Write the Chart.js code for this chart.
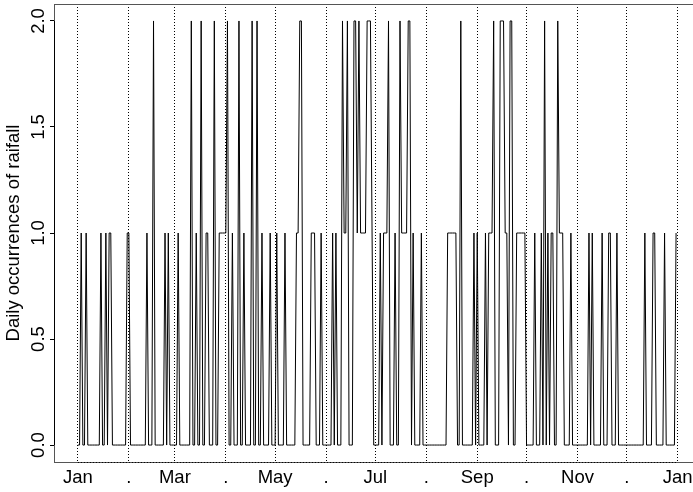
<!DOCTYPE html>
<html>
<head>
<meta charset="utf-8">
<title>Daily occurrences of rainfall</title>
<script src="https://cdn.jsdelivr.net/npm/chart.js@4.4.0/dist/chart.umd.min.js"></script>
<style>
  html, body { margin: 0; padding: 0; background: #fff; overflow: hidden; }
  #wrap { position: relative; width: 708px; height: 492px; }
</style>
</head>
<body>
<div id="wrap"><canvas id="rain" width="708" height="492"></canvas></div>
<script>
// daily rainfall occurrences, one array per month
const jan = [0,0,1,0,0,1,0,0,0,0,0,0,0,0,1,0,0,1,0,1,1,0,0,0,0,0,0,0,0,0,1];
const feb = [1,0,0,0,0,0,0,0,0,0,0,1,0,0,0,2,0,0,0,0,0,0,1,0,1,0,0,0];
const mar = [0,0,1,0,0,0,0,0,0,0,2,0,0,1,0,0,2,0,0,1,1,0,0,0,2,0,0,1,1,1,1];
const apr = [1,2,0,0,1,0,0,0,2,0,0,1,0,0,0,0,2,0,0,2,0,0,1,0,0,0,0,1,0,0];
const may = [0,1,0,0,0,0,1,0,0,0,0,0,0,1,1,2,2,0,0,0,0,0,1,1,1,0,0,0,1,0,0];
const jun = [0,0,0,0,1,0,1,0,0,0,2,1,1,2,0,0,0,2,2,1,2,1,1,1,1,2,2,2,1,0];
const jul = [0,0,0,1,0,1,1,1,2,0,0,0,1,0,0,2,1,1,1,1,2,2,0,1,0,0,0,0,1,0,0];
const aug = [0,0,0,0,0,0,0,0,0,0,0,0,0,1,1,1,1,1,1,0,0,2,0,0,0,0,0,0,0,1,0];
const sep = [1,0,0,0,0,1,0,1,1,1,2,0,0,0,2,2,2,1,1,0,2,2,0,0,1,1,1,1,1,1];
const oct = [0,0,0,0,0,1,0,0,0,1,0,2,0,1,0,1,1,0,0,2,1,1,1,0,0,0,0,1,0,0,0];
const nov = [0,0,0,0,0,0,0,1,0,1,0,0,0,0,0,1,0,0,0,1,1,0,0,0,1,0,0,0,0,0];
const dec = [0,0,0,0,0,0,0,0,0,0,0,1,0,0,0,0,1,1,0,0,0,0,0,1,0,0,0,0,0,0,1];

// x ticks: day of year where each month starts
const monthStarts = [0, 31, 59, 90, 120, 151, 181, 212, 243, 273, 304, 334, 365];
const monthLabels = ['Jan', '.', 'Mar', '.', 'May', '.', 'Jul', '.', 'Sep', '.', 'Nov', '.', 'Jan'];
const yTicks = [0, 0.5, 1, 1.5, 2];
const yTickLabels = ['0.0', '0.5', '1.0', '1.5', '2.0'];

const FONT = '"Liberation Sans", Arial, Helvetica, sans-serif';
const FONT_SIZE = 18.5;

const rain = [].concat(jan, feb, mar, apr, may, jun, jul, aug, sep, oct, nov, dec);
const points = rain.map((v, day) => ({ x: day, y: v }));

// box, axis lines and the vertical y tick labels
const frame = {
  id: 'frame',
  afterDraw(chart) {
    const { ctx, chartArea: a, scales: { x, y } } = chart;
    ctx.save();
    ctx.lineWidth = 1;
    ctx.strokeStyle = '#555';
    ctx.strokeRect(a.left + 0.5, a.top + 0.5, a.right - a.left, a.bottom - a.top);

    // axis line runs from first to last tick, dotted like the grid
    ctx.strokeStyle = '#000';
    ctx.setLineDash([1, 2]);
    ctx.beginPath();
    ctx.moveTo(x.getPixelForValue(monthStarts[0]), a.bottom + 0.5);
    ctx.lineTo(x.getPixelForValue(monthStarts[monthStarts.length - 1]), a.bottom + 0.5);
    ctx.stroke();
    ctx.setLineDash([]);

    ctx.beginPath();
    ctx.moveTo(a.left + 0.5, y.getPixelForValue(yTicks[0]));
    ctx.lineTo(a.left + 0.5, y.getPixelForValue(yTicks[yTicks.length - 1]));
    ctx.stroke();

    ctx.fillStyle = '#000';
    ctx.font = FONT_SIZE + 'px ' + FONT;
    ctx.textAlign = 'center';
    ctx.textBaseline = 'alphabetic';
    yTicks.forEach((v, i) => {
      ctx.save();
      ctx.translate(a.left - 10, y.getPixelForValue(v));
      ctx.rotate(-Math.PI / 2);
      ctx.fillText(yTickLabels[i], 0, 0);
      ctx.restore();
    });
    ctx.restore();
  }
};

new Chart(document.getElementById('rain'), {
  type: 'line',
  data: {
    datasets: [{
      data: points,
      borderColor: '#000',
      borderWidth: 1,
      pointRadius: 0,
      tension: 0,
      fill: false
    }]
  },
  options: {
    responsive: false,
    animation: false,
    devicePixelRatio: 1,
    layout: { padding: { top: 4, right: 8, left: 0, bottom: 0 } },
    plugins: { legend: { display: false }, tooltip: { enabled: false } },
    scales: {
      x: {
        type: 'linear',
        min: -14.56,
        max: 378.56,
        afterBuildTicks: (s) => { s.ticks = monthStarts.map(v => ({ value: v })); },
        afterFit: (s) => { s.height = 30; },
        ticks: {
          autoSkip: false,
          maxRotation: 0,
          padding: 5,
          color: '#000',
          font: { family: FONT, size: FONT_SIZE },
          callback: (value, index) => monthLabels[index]
        },
        grid: { color: '#000', lineWidth: 1, drawTicks: false, drawOnChartArea: true },
        border: { display: false, dash: [1, 2] }
      },
      y: {
        min: -0.08,
        max: 2.08,
        afterBuildTicks: (s) => { s.ticks = yTicks.map(v => ({ value: v })); },
        afterFit: (s) => { s.width = 54; },
        ticks: { display: false },
        grid: { drawOnChartArea: false, drawTicks: true, tickLength: 4, tickColor: '#000', color: '#000' },
        border: { display: false },
        title: {
          display: true,
          text: 'Daily occurrences of raifall',
          color: '#000',
          font: { family: FONT, size: FONT_SIZE },
          padding: { top: 3, bottom: 0 }
        }
      }
    }
  },
  plugins: [frame]
});
</script>
</body>
</html>
